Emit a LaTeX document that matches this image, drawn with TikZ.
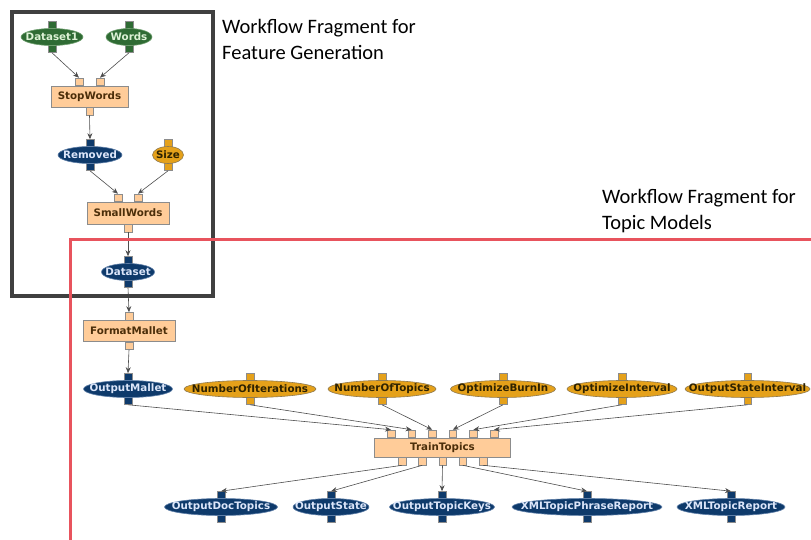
\documentclass[tikz,border=0pt]{standalone}
\usepackage{fontspec}
\usepackage{tikz}
\usetikzlibrary{arrows.meta, shapes.geometric, backgrounds}
\newfontfamily\nodefont{DejaVu Sans}
\newfontfamily\notefont{Carlito}
\definecolor{fgreen}{HTML}{2F6B34}
\definecolor{tgreen}{HTML}{DDF2D6}
\definecolor{rgreen}{HTML}{6F9F6F}
\definecolor{fblue}{HTML}{0E3A6B}
\definecolor{tblue}{HTML}{DCE6FA}
\definecolor{rblue}{HTML}{5F7FA8}
\definecolor{forange}{HTML}{E5A11A}
\definecolor{torange}{HTML}{2E2200}
\definecolor{rorange}{HTML}{8F7A4F}
\definecolor{peach}{HTML}{FFCC99}
\definecolor{tpeach}{HTML}{4B2E0A}
\definecolor{rim}{HTML}{8C8C8C}
\definecolor{wirecol}{HTML}{4D4D4D}
\definecolor{framecol}{HTML}{404040}
\definecolor{redline}{HTML}{E8535D}

\begin{document}
\begin{tikzpicture}[
    x=1pt, y=-1pt,
    data/.style={
        ellipse, line width=0.6pt,
        inner xsep=-22pt, inner ysep=0pt, minimum height=17pt,
        font=\nodefont\bfseries\fontsize{10.3}{12}\selectfont,
    },
    indata/.style={data, fill=fgreen, draw=rgreen, text=tgreen},
    outdata/.style={data, fill=fblue, draw=rblue, text=tblue},
    param/.style={data, fill=forange, draw=rorange, text=torange},
    task/.style={
        rectangle, fill=peach, draw=rim, line width=0.6pt, text=tpeach,
        inner sep=0pt, minimum height=21pt,
        font=\nodefont\bfseries\fontsize{10.3}{12}\selectfont,
    },
    port/.style={rectangle, draw=rim, line width=0.5pt, minimum size=7.5pt, inner sep=0pt},
    wire/.style={wirecol, line width=0.6pt, -{Stealth[length=6pt, width=5pt]}},
    note/.style={font=\notefont\fontsize{20.5}{26}\selectfont, align=left, inner sep=0pt},
]
\useasboundingbox (0,0) rectangle (811,540);

% ---- feature generation fragment
\node[indata, minimum width=62pt] (dataset1) at (52,37) {Dataset1};
\node[indata, minimum width=46pt] (words) at (129,37) {Words};
\node[task, minimum width=77pt] (stopwords) at (89.5,96.5) {StopWords};
\node[outdata, minimum width=64pt] (removed) at (90,155) {Removed};
\node[param, minimum width=31pt] (size) at (168,155) {Size};
\node[task, minimum width=82pt, minimum height=22pt] (smallwords) at (128,213) {SmallWords};
\node[outdata, minimum width=53pt] (dataset) at (128,272) {Dataset};

% ---- topic model fragment
\node[task, minimum width=92pt] (formatmallet) at (129,331) {FormatMallet};
\node[outdata, minimum width=89pt] (outputmallet) at (128,389) {OutputMallet};
\node[param, minimum width=132pt] (numiter) at (250,389) {NumberOfIterations};
\node[param, minimum width=108pt] (numtopics) at (382,389) {NumberOfTopics};
\node[param, minimum width=105pt] (burnin) at (503,389) {OptimizeBurnIn};
\node[param, minimum width=110pt] (optinterval) at (622,389) {OptimizeInterval};
\node[param, minimum width=125pt] (stateinterval) at (747.5,389) {OutputStateInterval};
\node[task, minimum width=136pt, minimum height=19pt] (traintopics) at (442.5,447.5) {TrainTopics};
\node[outdata, minimum width=113pt] (doctopics) at (221,507) {OutputDocTopics};
\node[outdata, minimum width=76pt] (outstate) at (331,507) {OutputState};
\node[outdata, minimum width=105pt] (topickeys) at (442,507) {OutputTopicKeys};
\node[outdata, minimum width=150pt] (phrasereport) at (587,507) {XMLTopicPhraseReport};
\node[outdata, minimum width=108pt] (topicreport) at (731,507) {XMLTopicReport};

% ports of the data nodes sit behind them
\begin{scope}[on background layer]
  \foreach \n/\c in {dataset1/fgreen, words/fgreen, removed/fblue, size/forange,
      dataset/fblue, outputmallet/fblue, numiter/forange, numtopics/forange,
      burnin/forange, optinterval/forange, stateinterval/forange, doctopics/fblue,
      outstate/fblue, topickeys/fblue, phrasereport/fblue, topicreport/fblue} {
    \node[port, fill=\c, anchor=south] (\n-t) at ([yshift=-1pt]\n.north) {};
    \node[port, fill=\c, anchor=north] (\n-b) at ([yshift=1pt]\n.south) {};
  }
\end{scope}

% ports of the tasks
\node[port, fill=peach, anchor=south] (stopwords-i1) at ([xshift=-10.5pt]stopwords.north) {};
\node[port, fill=peach, anchor=south] (stopwords-i2) at ([xshift=10.5pt]stopwords.north) {};
\node[port, fill=peach, anchor=north] (stopwords-o) at (stopwords.south) {};
\node[port, fill=peach, anchor=south] (smallwords-i1) at ([xshift=-10pt]smallwords.north) {};
\node[port, fill=peach, anchor=south] (smallwords-i2) at ([xshift=10pt]smallwords.north) {};
\node[port, fill=peach, anchor=north] (smallwords-o) at (smallwords.south) {};
\node[port, fill=peach, anchor=south] (formatmallet-i) at (formatmallet.north) {};
\node[port, fill=peach, anchor=north] (formatmallet-o) at (formatmallet.south) {};
\foreach \k in {1,...,6}
  \node[port, fill=peach, anchor=south] (traintopics-i\k) at ([xshift={(\k-3.5)*20.6}]traintopics.north) {};
\foreach \k in {1,...,5}
  \node[port, fill=peach, anchor=north] (traintopics-o\k) at ([xshift={(\k-3)*20.25}]traintopics.south) {};

% ---- connectors
\draw[wire] (dataset1-b.south) -- (stopwords-i1.north);
\draw[wire] (words-b.south) -- (stopwords-i2.north);
\draw[wire] (stopwords-o.south) -- (removed-t.north);
\draw[wire] (removed-b.south) -- (smallwords-i1.north);
\draw[wire] (size-b.south) -- (smallwords-i2.north);
\draw[wire] (smallwords-o.south) -- (dataset-t.north);
\draw[wire] (dataset-b.south) -- (formatmallet-i.north);
\draw[wire] (formatmallet-o.south) -- (outputmallet-t.north);

\draw[wire] (outputmallet-b.south) -- (traintopics-i1.north);
\draw[wire] (numiter-b.south) -- (traintopics-i2.north);
\draw[wire] (numtopics-b.south) -- (traintopics-i3.north);
\draw[wire] (burnin-b.south) -- (traintopics-i4.north);
\draw[wire] (optinterval-b.south) -- (traintopics-i5.north);
\draw[wire] (stateinterval-b.south) -- (traintopics-i6.north);

\draw[wire] (traintopics-o1.south) -- (doctopics-t.north);
\draw[wire] (traintopics-o2.south) -- (outstate-t.north);
\draw[wire] (traintopics-o3.south) -- (topickeys-t.north);
\draw[wire] (traintopics-o4.south) -- (phrasereport-t.north);
\draw[wire] (traintopics-o5.south) -- (topicreport-t.north);

% ---- fragment outlines and their captions
\draw[framecol, line width=3.5pt] (12,12) rectangle (213,296);
\draw[redline, line width=3pt] (70,540) -- (70,239) -- (811,239);

\node[note, anchor=north west] (featnote) at (222,19) {Workflow Fragment for\\Feature Generation};
\node[note, anchor=north west] (topicnote) at (602,189.5) {Workflow Fragment for\\Topic Models};

\end{tikzpicture}
\end{document}
